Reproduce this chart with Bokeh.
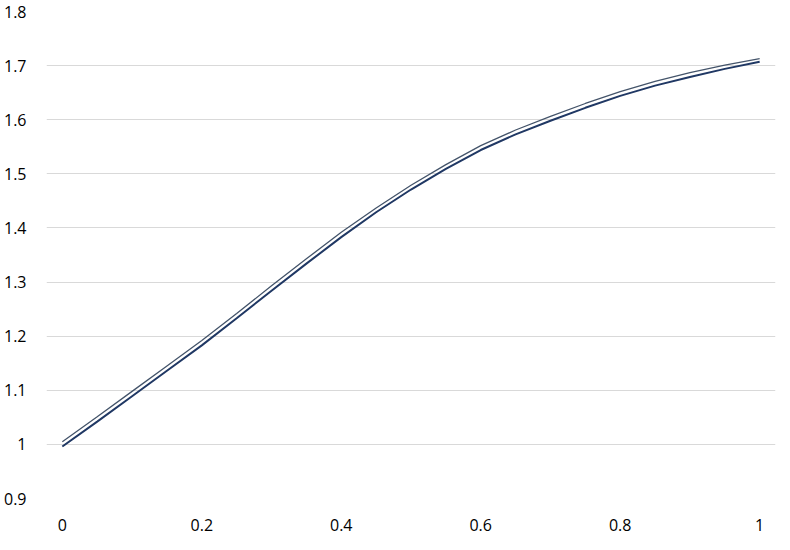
from bokeh.plotting import figure
from bokeh.models import FixedTicker, CustomJSTickFormatter, Range1d
from bokeh.embed import file_html
from bokeh.resources import INLINE

# data
x_vals = [0.0, 0.05, 0.10, 0.15, 0.20, 0.25, 0.30, 0.35, 0.40, 0.45, 0.50,
          0.55, 0.60, 0.65, 0.70, 0.75, 0.80, 0.85, 0.90, 0.95, 1.00]
series_upper = [1.005, 1.051, 1.098, 1.145, 1.192, 1.242, 1.293, 1.343, 1.392, 1.437, 1.479,
                1.517, 1.552, 1.581, 1.606, 1.630, 1.652, 1.671, 1.687, 1.701, 1.713]
series_lower = [0.996, 1.042, 1.089, 1.136, 1.183, 1.233, 1.284, 1.334, 1.383, 1.429, 1.471,
                1.509, 1.544, 1.573, 1.598, 1.622, 1.644, 1.663, 1.679, 1.694, 1.707]
x_ticks = [0, 0.2, 0.4, 0.6, 0.8, 1.0]
y_ticks = [0.9, 1.0, 1.1, 1.2, 1.3, 1.4, 1.5, 1.6, 1.7, 1.8]

p = figure(width=780, height=538, output_backend="svg", toolbar_location=None,
           x_range=Range1d(-0.0227, 1.0227), y_range=Range1d(0.9, 1.8),
           min_border_left=38, min_border_right=5, min_border_top=11, min_border_bottom=40)
p.outline_line_color = None
p.background_fill_color = "white"

p.line(x_vals, series_upper, line_color="#44546A", line_width=1.3)
p.line(x_vals, series_lower, line_color="#203864", line_width=2.0)

fmt = CustomJSTickFormatter(code="return String(Math.round(tick*10)/10);")

p.xaxis.ticker = FixedTicker(ticks=x_ticks)
p.yaxis.ticker = FixedTicker(ticks=y_ticks)
for ax in (p.xaxis[0], p.yaxis[0]):
    ax.formatter = fmt
    ax.axis_line_color = None
    ax.major_tick_line_color = None
    ax.minor_tick_line_color = None
    ax.major_label_text_font = "Open Sans"
    ax.major_label_text_font_size = "16px"
    ax.major_label_text_color = "#000000"
p.yaxis.major_label_standoff = 14
p.xaxis.major_label_standoff = 14

p.xgrid.grid_line_color = None
p.ygrid.grid_line_color = "#D9D9D9"
p.ygrid.grid_line_width = 1

open("out.html", "w").write(file_html(p, INLINE))
